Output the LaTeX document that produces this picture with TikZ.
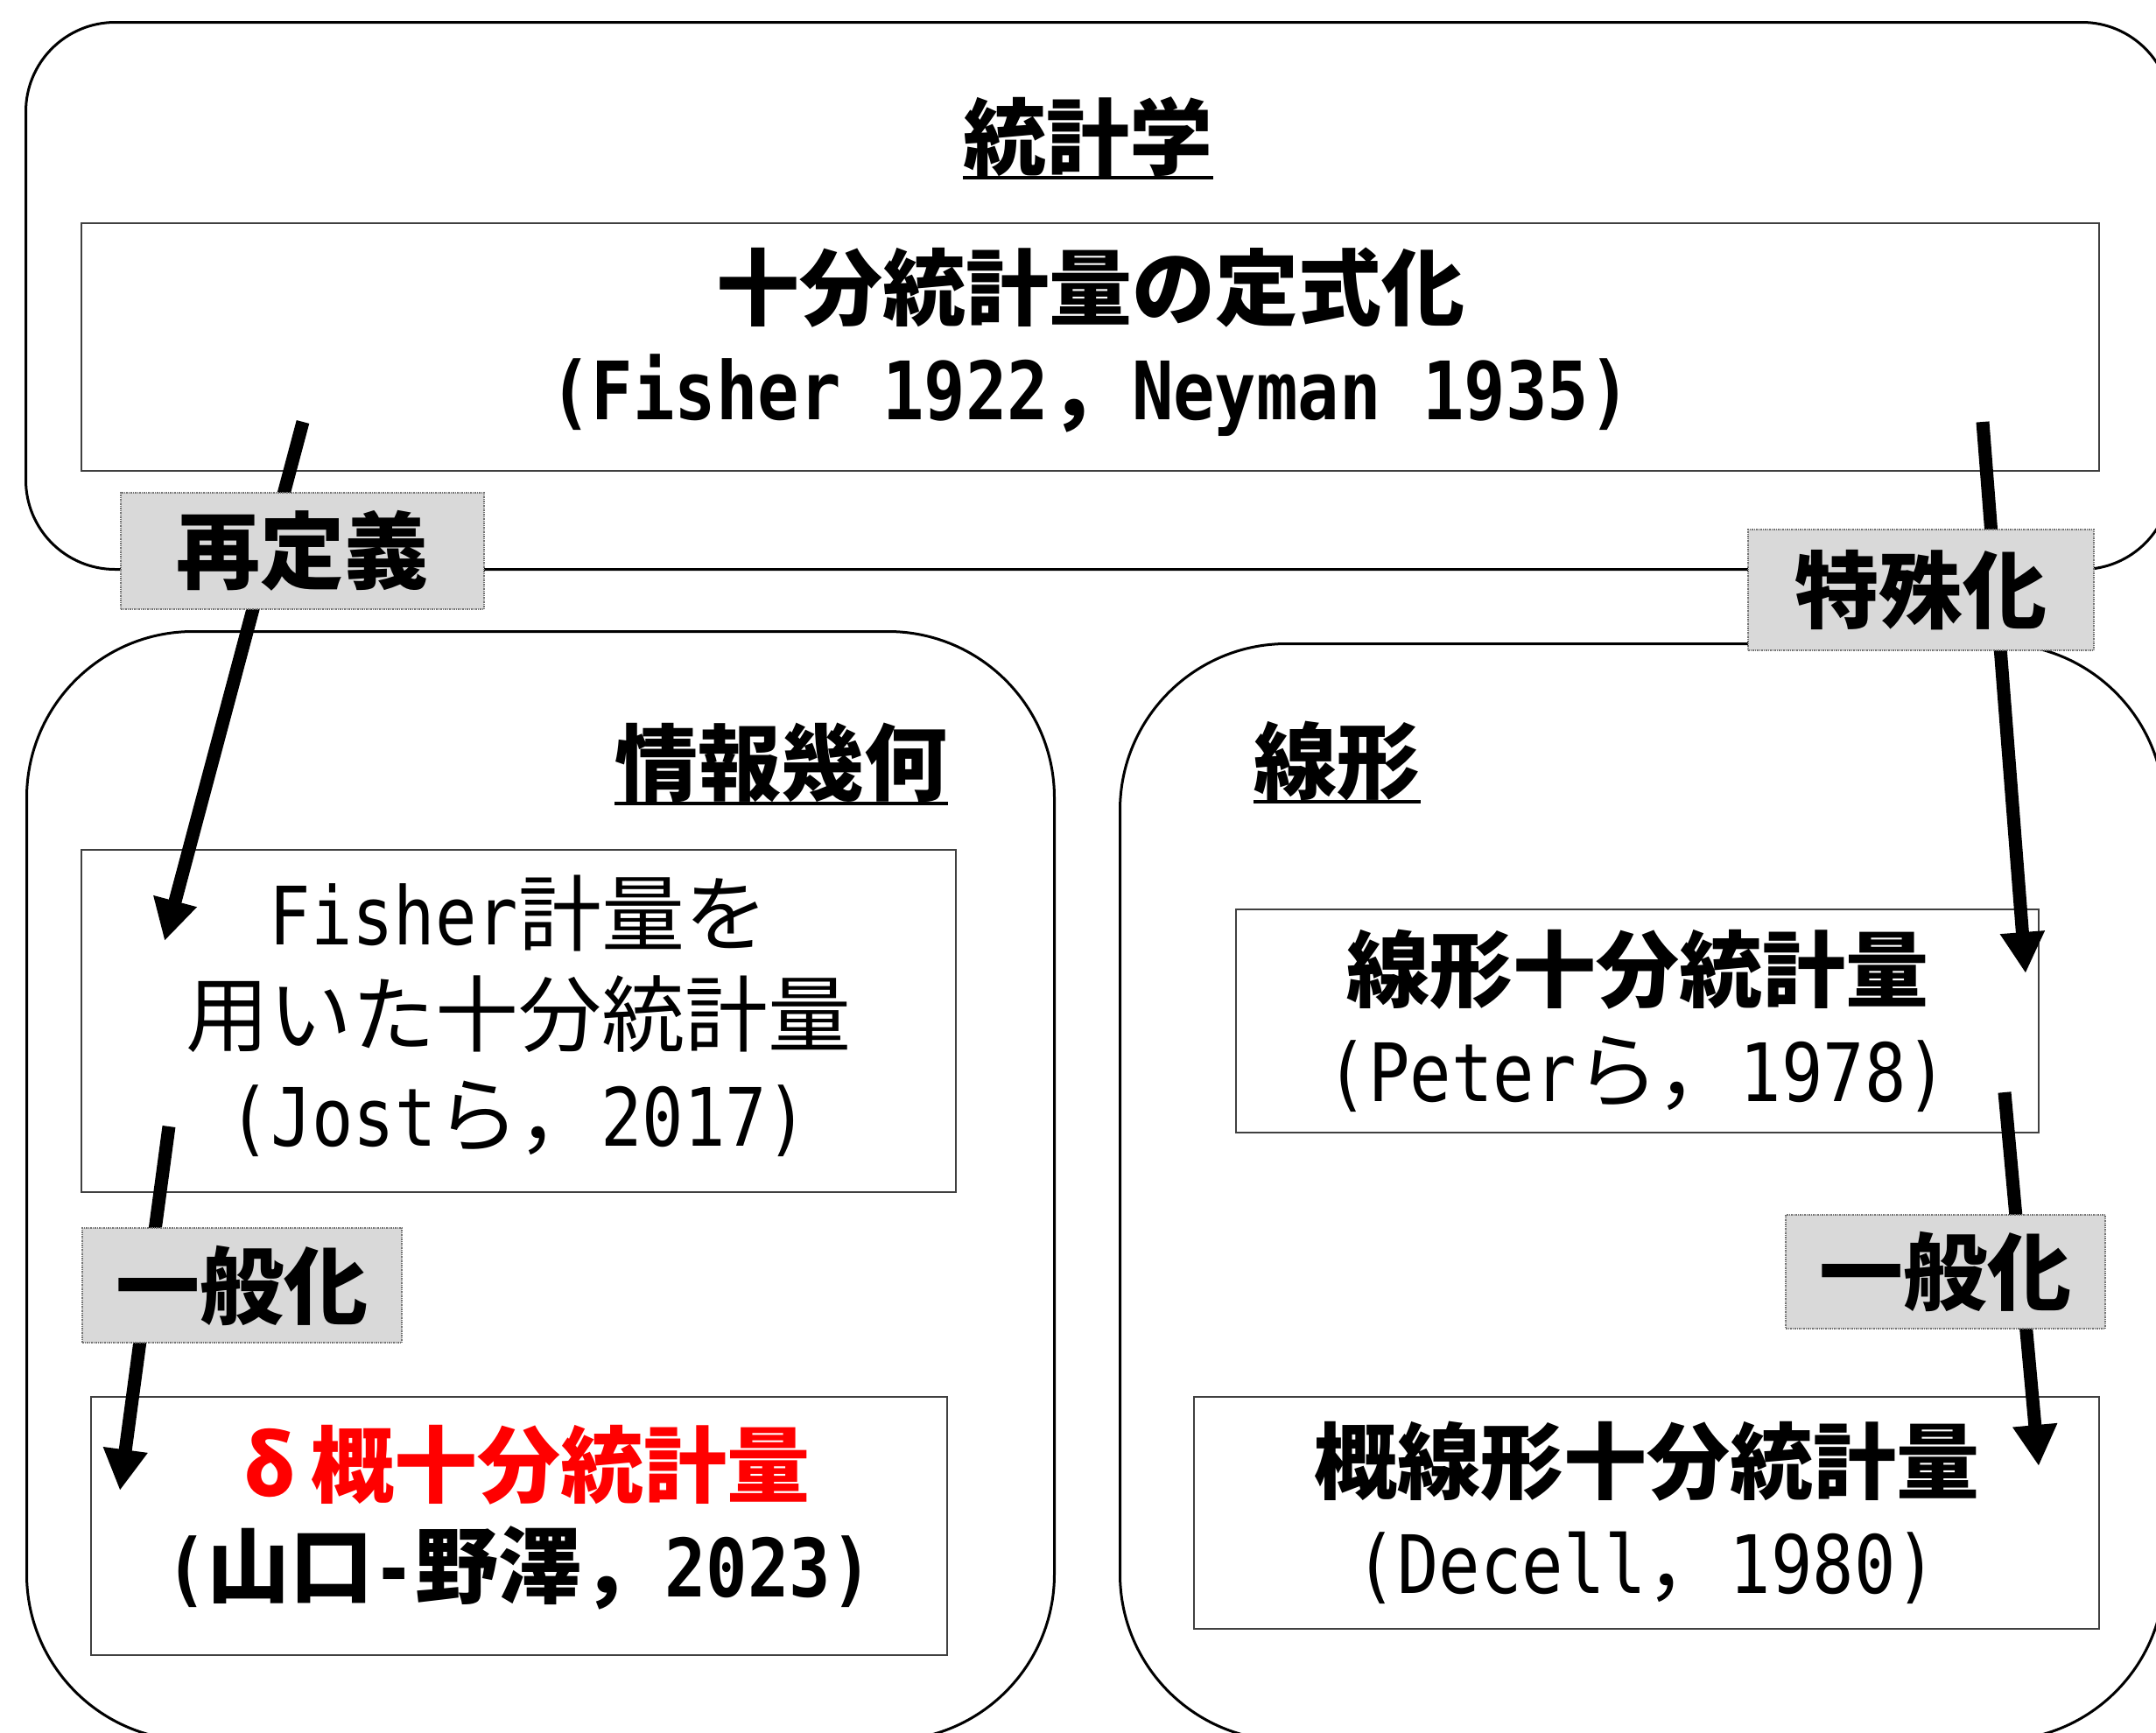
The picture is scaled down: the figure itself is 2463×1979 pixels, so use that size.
\documentclass[tikz,border=0pt]{standalone}
\usepackage{fontspec}
\usepackage{graphicx}
\setmainfont{Noto Sans CJK JP}
\newfontfamily\monof{DejaVu Sans Mono}
\usetikzlibrary{arrows.meta}
\newcommand\hw[1]{\scalebox{0.857}[1]{\fontsize{92}{115}\selectfont\monof #1}}
\newcommand\hwb[1]{\scalebox{0.857}[1]{\fontsize{92}{115}\selectfont\monof\bfseries #1}}
\begin{document}
\begin{tikzpicture}[x=1pt,y=-1pt,
  outerbox/.style={draw=black, line width=3pt, inner sep=0pt, anchor=north west},
  ibox/.style={draw=black!75, line width=2pt, fill=white, align=center, inner sep=0pt,
    font=\fontsize{95}{115}\selectfont},
  titletext/.style={anchor=base, inner sep=0pt, font=\fontsize{95}{115}\selectfont\bfseries},
  uline/.style={line width=4pt},
  arr/.style={line width=15pt, -{Triangle[length=47pt,width=48pt]}},
  lab/.style={fill=black!15, draw=black!55, densely dotted, line width=1.5pt, inner sep=0pt,
    font=\fontsize{96}{110}\selectfont\bfseries}]
\clip (0,0) rectangle (2463,1979);
% outer containers
\node[outerbox, rounded corners=102pt, minimum width=2451pt, minimum height=625pt] (stat) at (28,24) {};
\node[outerbox, rounded corners=190pt, minimum width=1174pt, minimum height=1267pt] (geo) at (29,720) {};
\node[outerbox, rounded corners=190pt, minimum width=1193pt, minimum height=1253pt] (lin) at (1278,734) {};
% titles
\node[titletext] (t1) at (1243,192) {統計学};
\node[titletext] (t2) at (892.5,907) {情報幾何};
\node[titletext] (t3) at (1527.5,905) {線形};
\draw[uline] ([yshift=-11pt]t1.base west) -- ([yshift=-11pt]t1.base east);
\draw[uline] ([yshift=-11pt]t2.base west) -- ([yshift=-11pt]t2.base east);
\draw[uline] ([yshift=-11pt]t3.base west) -- ([yshift=-11pt]t3.base east);
% inner boxes
\node[ibox, minimum width=2305pt, minimum height=283pt, text depth=30pt] (def) at (1245.5,396.5)
  {{\bfseries 十分統計量の定式化}\\\hwb{(Fisher 1922}{\bfseries ，}\hwb{Neyman 1935)}};
\node[ibox, minimum width=999pt, minimum height=391pt, text depth=24pt] (fis) at (592.5,1166.5)
  {\hw{Fisher}計量を\\用いた十分統計量\\\hw{(Jost}ら，\hw{2017)}};
\node[ibox, minimum width=978pt, minimum height=295pt, text depth=34pt] (del) at (593,1743.5)
  {{\color{red}\bfseries\makebox[95pt]{δ}概十分統計量}\\{\bfseries\hwb{(}山口\hwb{-}野澤，\hwb{2023)}}};
\node[ibox, minimum width=917pt, minimum height=255pt] (lss) at (1870.5,1166.5)
  {{\bfseries 線形十分統計量}\\\hw{(Peter}ら，\hw{1978)}};
\node[ibox, minimum width=1034pt, minimum height=265pt] (als) at (1881,1728.5)
  {{\bfseries 概線形十分統計量}\\\hw{(Decell}，\hw{1980)}};
% arrows
\coordinate (s1) at (346,482);  \coordinate (e1) at (188,1075);
\coordinate (s2) at (2265,482); \coordinate (e2) at (2314,1112);
\coordinate (s3) at (193,1287); \coordinate (e3) at (137,1703);
\coordinate (s4) at (2290,1248); \coordinate (e4) at (2329,1675);
\draw[arr] (s1) -- (e1);
\draw[arr] (s2) -- (e2);
\draw[arr] (s3) -- (e3);
\draw[arr] (s4) -- (e4);
% labels
\node[lab, minimum width=415pt, minimum height=133pt] (l1) at (345.5,629.5) {再定義};
\node[lab, minimum width=395pt, minimum height=138pt] (l2) at (2194.5,674) {特殊化};
\node[lab, minimum width=365pt, minimum height=131pt] (l3) at (276.5,1468.5) {一般化};
\node[lab, minimum width=365pt, minimum height=130pt] (l4) at (2222.5,1453) {一般化};
\end{tikzpicture}
\end{document}
